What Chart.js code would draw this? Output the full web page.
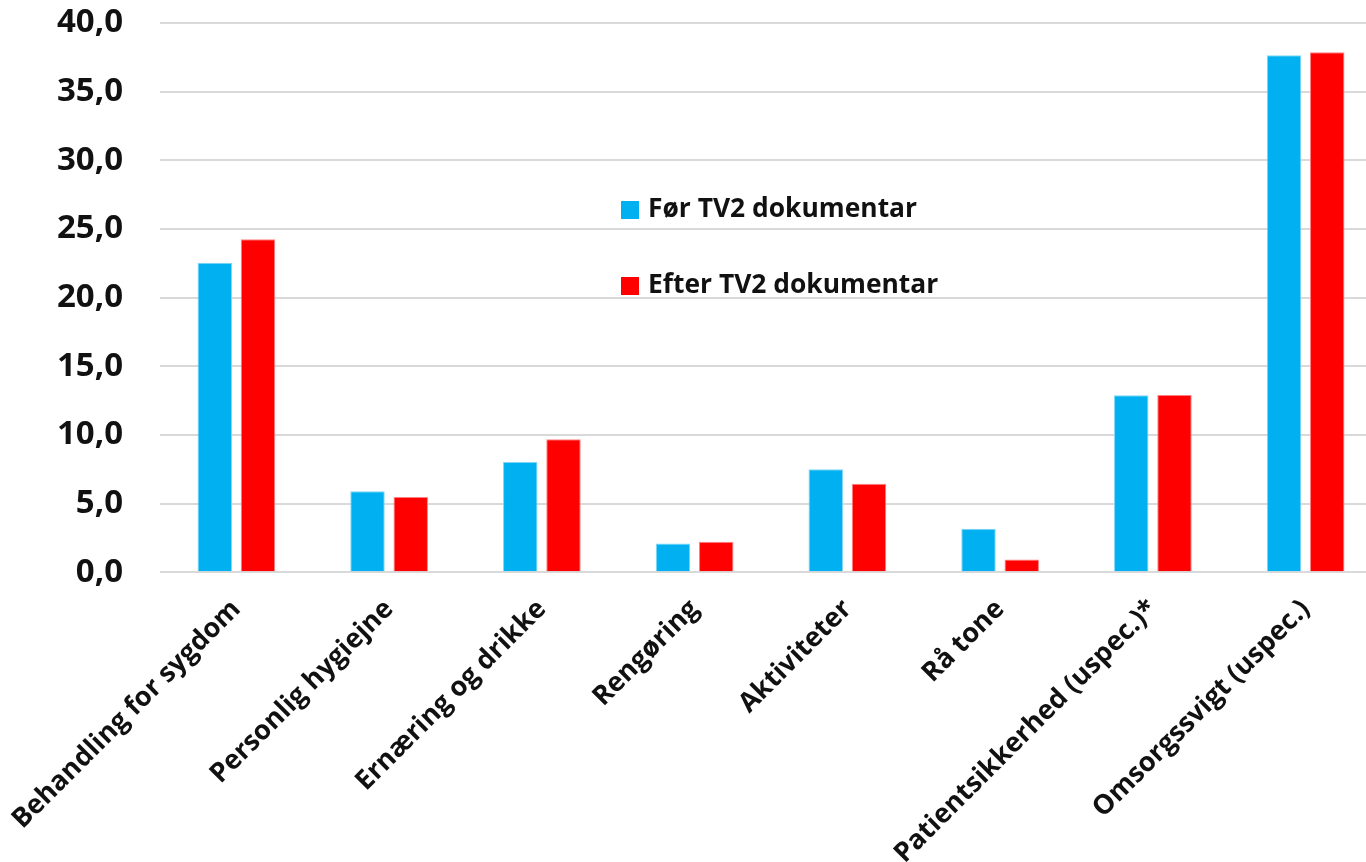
<!DOCTYPE html>
<html>
<head>
<meta charset="utf-8">
<script src="https://cdn.jsdelivr.net/npm/chart.js@4.4.1/dist/chart.umd.min.js"></script>
<style>
  html, body { margin: 0; padding: 0; background: #fff; overflow: hidden; }
  #wrap { position: relative; width: 1400px; height: 862px; }
  .leg { position: absolute; left: 621px; font-family: "Open Sans", sans-serif; font-weight: 700; font-size: 26.4px; color: #111; white-space: nowrap; line-height: 1; }
  .leg span.sw { position: absolute; left: 0; width: 18px; height: 18px; }
  .leg span.tx { position: absolute; left: 27px; top: -7px; }
</style>
</head>
<body>
<div id="wrap">
  <canvas id="c"></canvas>
  <div id="legend"></div>
</div>
<script>
const categories = ["Behandling for sygdom", "Personlig hygiejne", "Ernæring og drikke", "Rengøring", "Aktiviteter", "Rå tone", "Patientsikkerhed (uspec.)*", "Omsorgssvigt (uspec.)"];
const seriesNames = ["Før TV2 dokumentar", "Efter TV2 dokumentar"];
const beforeValues = [22.55, 5.9, 8.03, 2.1, 7.5, 3.18, 12.89, 37.65];
const afterValues = [24.25, 5.48, 9.69, 2.23, 6.45, 0.93, 12.91, 37.87];
const yTicks = [0, 5, 10, 15, 20, 25, 30, 35, 40];
const colors = ["#00B0F0", "#FF0000"];
const borderColors = ["#7fd6f7", "#ff8080"];

const ctx = document.getElementById('c');
new Chart(ctx, {
  type: 'bar',
  data: {
    labels: categories,
    datasets: [
      { label: seriesNames[0], data: beforeValues, backgroundColor: colors[0], borderColor: borderColors[0], borderWidth: 1, categoryPercentage: 0.566, barPercentage: 0.797 },
      { label: seriesNames[1], data: afterValues, backgroundColor: colors[1], borderColor: borderColors[1], borderWidth: 1, categoryPercentage: 0.566, barPercentage: 0.797 }
    ]
  },
  options: {
    responsive: true,
    maintainAspectRatio: false,
    animation: false,
    layout: { padding: { top: 23, right: 18, left: 0, bottom: 0 } },
    plugins: { legend: { display: false }, tooltip: { enabled: false } },
    scales: {
      x: {
        grid: { display: false },
        border: { display: false },
        ticks: {
          color: '#111',
          font: { family: 'Open Sans', weight: 'bold', size: 27 },
          maxRotation: 45, minRotation: 45, autoSkip: false, padding: 13
        },
        afterFit: (s) => { s.height = 862 - 572.3; s.paddingLeft = 0; s.paddingRight = 0; }
      },
      y: {
        min: 0, max: 40,
        afterBuildTicks: (s) => { s.ticks = yTicks.map(v => ({ value: v })); },
        grid: { color: '#d9d9d9', lineWidth: 2, drawTicks: false },
        border: { display: false },
        ticks: {
          color: '#111',
          font: { family: 'Open Sans', weight: 'bold', size: 33 },
          padding: 37,
          callback: (v) => v.toFixed(1).replace('.', ',')
        },
        afterFit: (s) => { s.width = 160; s.paddingTop = 0; s.paddingBottom = 0; }
      }
    }
  }
});

const legend = document.getElementById('legend');
const legTops = [201, 277];
seriesNames.forEach((n, i) => {
  const d = document.createElement('div');
  d.className = 'leg';
  d.style.top = legTops[i] + 'px';
  d.innerHTML = '<span class="sw" style="background:' + colors[i] + '"></span><span class="tx">' + n + '</span>';
  legend.appendChild(d);
});
</script>
</body>
</html>
